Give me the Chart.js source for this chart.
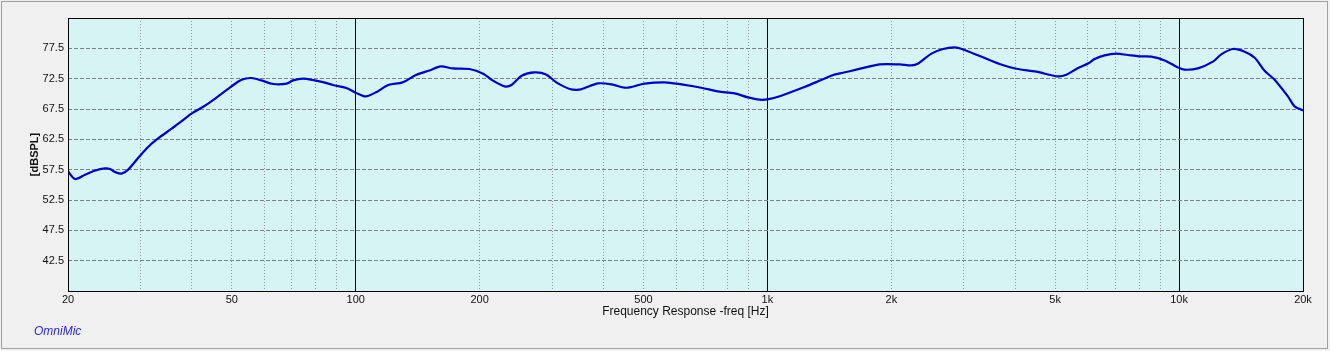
<!DOCTYPE html>
<html>
<head>
<meta charset="utf-8">
<script src="https://cdn.jsdelivr.net/npm/chart.js@4.4.1/dist/chart.umd.min.js"></script>
<style>
  html, body { margin: 0; padding: 0; background: #f0f0f0; }
  #wrap { position: relative; width: 1330px; height: 351px; }
</style>
</head>
<body>
<div id="wrap"><canvas id="c" width="1330" height="351"></canvas></div>
<script>
// ---- data ----
const freqHz = [20, 20.8, 22.0, 23.2, 24.6, 25.3, 26.0, 27.0, 28.0, 29.6, 31.3, 33.1, 35.7, 37.7, 39.9, 43.0, 46.3, 49.9, 52.8, 55.8, 59.0, 63.0, 67.9, 70.4, 74.5, 79.5, 83.7, 88.0, 94.9, 100.3, 106, 113, 120, 130, 140, 151, 161, 172, 189, 204, 215, 230, 239, 253, 272, 290, 307, 331, 349, 360, 388, 418, 450, 467, 503, 563, 618, 691, 758, 833, 897, 957, 1000, 1081, 1231, 1352, 1451, 1526, 1644, 1874, 2096, 2237, 2320, 2503, 2670, 2850, 2986, 3278, 3664, 4024, 4500, 5078, 5322, 5628, 6040, 6236, 6594, 7040, 7510, 8096, 8562, 9222, 9936, 10316, 11110, 12080, 12660, 13510, 14430, 15260, 16130, 17060, 18380, 19080, 20000];
const splDb = [57.22, 55.96, 56.67, 57.33, 57.71, 57.61, 57.12, 56.84, 57.5, 59.42, 61.24, 62.65, 64.25, 65.46, 66.73, 68.04, 69.58, 71.23, 72.33, 72.61, 72.21, 71.62, 71.67, 72.21, 72.5, 72.21, 71.89, 71.46, 70.96, 70.14, 69.58, 70.4, 71.46, 71.89, 73.1, 73.86, 74.52, 74.19, 74.09, 73.32, 72.21, 71.23, 71.46, 72.99, 73.53, 73.2, 71.89, 70.8, 70.68, 70.96, 71.72, 71.56, 71.01, 71.13, 71.67, 71.89, 71.56, 71.01, 70.4, 70.07, 69.41, 69.03, 69.08, 69.69, 71.13, 72.28, 73.15, 73.48, 73.98, 74.85, 74.85, 74.69, 74.97, 76.62, 77.39, 77.65, 77.32, 76.24, 74.92, 74.14, 73.65, 72.87, 73.15, 74.09, 75.08, 75.74, 76.34, 76.62, 76.4, 76.17, 76.12, 75.51, 74.36, 73.98, 74.19, 75.3, 76.5, 77.39, 76.95, 75.96, 73.81, 72.33, 69.58, 67.93, 67.27];
const yTicks = [42.5, 47.5, 52.5, 57.5, 62.5, 67.5, 72.5, 77.5];
const xGridMinor = [30, 40, 50, 60, 70, 80, 90, 200, 300, 400, 500, 600, 700, 800, 900, 2000, 3000, 4000, 5000, 6000, 7000, 8000, 9000];
const xGridDecade = [100, 1000, 10000];
const xTickValues = [20, 50, 100, 200, 500, 1000, 2000, 5000, 10000, 20000];
const xTickLabels = ['20', '50', '100', '200', '500', '1k', '2k', '5k', '10k', '20k'];
const xRange = [20, 20000];
const yRange = [37.5, 82.5];
const seriesLabel = 'Frequency Response';
const xTitle = 'Frequency Response -freq [Hz]';
const yTitle = '[dBSPL]';
const brand = 'OmniMic';

const FONT = "'Liberation Sans', Arial, sans-serif";

const framePlugin = {
  id: 'frame',
  beforeDraw(chart) {
    const ctx = chart.ctx;
    ctx.save();
    ctx.fillStyle = '#f0f0f0';
    ctx.fillRect(0, 0, chart.width, chart.height);
    ctx.strokeStyle = '#a0a0a0';
    ctx.lineWidth = 1;
    ctx.strokeRect(1.5, 1.5, 1326, 347);
    const a = chart.chartArea;
    ctx.fillStyle = '#d7f4f4';
    ctx.fillRect(a.left, a.top, a.right - a.left, a.bottom - a.top);
    ctx.restore();
  },
  afterDraw(chart) {
    const ctx = chart.ctx;
    const a = chart.chartArea;
    ctx.save();
    ctx.strokeStyle = '#000';
    ctx.lineWidth = 1;
    ctx.strokeRect(Math.round(a.left) + 0.5, Math.round(a.top) + 0.5,
      Math.round(a.right - a.left), Math.round(a.bottom - a.top));
    ctx.fillStyle = '#2a2ad8';
    ctx.font = "italic 12px " + FONT;
    ctx.textBaseline = 'middle';
    ctx.textAlign = 'left';
    ctx.fillText(brand, 34, 332);
    ctx.restore();
  }
};

const allXTicks = Array.from(new Set(xTickValues.concat(xGridMinor))).sort((a, b) => a - b);

new Chart(document.getElementById('c'), {
  type: 'line',
  data: {
    datasets: [{
      label: seriesLabel,
      data: freqHz.map((f, i) => ({ x: f, y: splDb[i] })),
      borderColor: '#0000cc',
      borderWidth: 2.2,
      pointRadius: 0,
      tension: 0.3,
      fill: false
    }]
  },
  options: {
    responsive: false,
    animation: false,
    devicePixelRatio: 1,
    layout: { padding: { left: 0, right: 27, top: 18, bottom: 0 } },
    plugins: { legend: { display: false }, tooltip: { enabled: false } },
    scales: {
      x: {
        type: 'logarithmic',
        position: 'bottom',
        min: xRange[0], max: xRange[1],
        afterBuildTicks(scale) {
          scale.ticks = allXTicks.map(v => ({ value: v }));
        },
        afterFit(scale) { scale.height = 60; },
        border: { display: false, dash: [1, 2] },
        grid: {
          drawTicks: false,
          lineWidth: 1,
          color(ctx) {
            const v = ctx.tick && ctx.tick.value;
            return xGridMinor.includes(v) ? '#8c9a9a' : 'rgba(0,0,0,0)';
          }
        },
        ticks: {
          autoSkip: false,
          maxRotation: 0,
          padding: 2,
          color: '#111',
          font: { family: FONT, size: 11 },
          major: { enabled: false },
          callback(v) {
            const i = xTickValues.indexOf(v);
            return i >= 0 ? xTickLabels[i] : '';
          }
        },
        title: {
          display: true,
          text: xTitle,
          color: '#111',
          font: { family: FONT, size: 12 },
          padding: { top: 0, bottom: 32 }
        }
      },
      x2: {
        type: 'logarithmic',
        position: 'bottom',
        min: xRange[0], max: xRange[1],
        afterBuildTicks(scale) { scale.ticks = xGridDecade.map(v => ({ value: v })); },
        afterFit(scale) { scale.height = 0; },
        border: { display: false },
        grid: { drawTicks: false, color: '#000', lineWidth: 1 },
        ticks: { display: false }
      },
      y: {
        type: 'linear',
        min: yRange[0], max: yRange[1],
        afterBuildTicks(scale) { scale.ticks = yTicks.map(v => ({ value: v })); },
        afterFit(scale) { scale.width = 68; },
        border: { display: false, dash: [4, 2] },
        grid: { drawTicks: false, color: '#7a8484', lineWidth: 1 },
        ticks: {
          padding: 4,
          color: '#111',
          font: { family: FONT, size: 11 },
          callback(v) { return v.toFixed(1); }
        },
        title: {
          display: true,
          text: yTitle,
          color: '#111',
          font: { family: FONT, size: 11, weight: 'bold' },
          padding: { top: 28, bottom: 0 }
        }
      }
    }
  },
  plugins: [framePlugin]
});
</script>
</body>
</html>
